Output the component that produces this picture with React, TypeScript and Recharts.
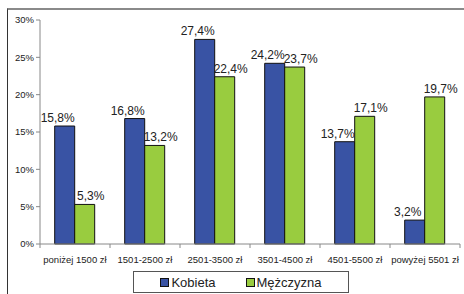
import { BarChart, Bar, XAxis, YAxis, LabelList } from "recharts";

const categories = [
  "poniżej 1500 zł",
  "1501-2500 zł",
  "2501-3500 zł",
  "3501-4500 zł",
  "4501-5500 zł",
  "powyżej 5501 zł",
];
const kobieta = [15.8, 16.8, 27.4, 24.2, 13.7, 3.2];
const mezczyzna = [5.3, 13.2, 22.4, 23.7, 17.1, 19.7];
const yTicks = [0, 5, 10, 15, 20, 25, 30];

const SERIES = [
  { key: "kobieta", name: "Kobieta", color: "#3953a4", dx: -7 },
  { key: "mezczyzna", name: "Mężczyzna", color: "#99cc3f", dx: 6 },
];

const data = categories.map((name, i) => ({
  name,
  kobieta: kobieta[i],
  mezczyzna: mezczyzna[i],
}));

const W = 464;
const H = 294;
const PLOT_LEFT = 40;
const PLOT_RIGHT = 460;
const BAND = (PLOT_RIGHT - PLOT_LEFT) / categories.length;

const fmt = (v: any) => `${String(v).replace(".", ",")}%`;

// category label plus a tick mark on the band boundary (Excel style)
const XTick = ({ x, y, payload, index }: any) => (
  <g>
    {index === 0 && (
      <line x1={x - BAND / 2} y1={y - 8} x2={x - BAND / 2} y2={y - 4} stroke="#888" />
    )}
    <line x1={x + BAND / 2} y1={y - 8} x2={x + BAND / 2} y2={y - 4} stroke="#888" />
    <text x={x} y={y + 11} textAnchor="middle" fontSize={9.5} fill="#222">
      {payload.value}
    </text>
  </g>
);

export default function App() {
  return (
    <div style={{ position: "absolute", left: 0, top: 0, width: W, height: H, background: "#fff", overflow: "hidden", fontFamily: "Arial, 'Liberation Sans', sans-serif" }}>
      <div style={{ position: "absolute", left: 7, top: 8, width: W, height: H, borderTop: "2px solid #8a8a8a", borderLeft: "1px solid #333" }} />
      <div style={{ position: "absolute", left: 0, top: 0 }}>
        <BarChart
          width={W}
          height={H}
          data={data}
          margin={{ top: 20, right: 4, left: 10, bottom: 30 }}
          barCategoryGap="21%"
          barGap={0}
        >
          <XAxis
            dataKey="name"
            axisLine={{ stroke: "#888" }}
            tickLine={false}
            tick={<XTick />}
            interval={0}
            height={20}
          />
          <YAxis
            width={30}
            domain={[0, 30]}
            ticks={yTicks}
            tickFormatter={(v) => `${v}%`}
            axisLine={{ stroke: "#888" }}
            tickLine={{ stroke: "#888" }}
            tickSize={4}
            tick={{ fontSize: 9.5, fill: "#222" }}
          />
          {SERIES.map((s) => (
            <Bar key={s.key} dataKey={s.key} name={s.name} fill={s.color} stroke="#111" strokeWidth={1} isAnimationActive={false}>
              <LabelList dataKey={s.key} position="top" offset={4} dx={s.dx} formatter={fmt} style={{ fontSize: 12, fill: "#222" }} />
            </Bar>
          ))}
        </BarChart>
      </div>
      <div style={{ position: "absolute", left: 133, top: 271, width: 216, height: 22, border: "1px solid #555", boxSizing: "border-box", display: "flex", alignItems: "center", justifyContent: "center", gap: 30, fontSize: 13, color: "#222" }}>
        {SERIES.map((s) => (
          <div key={s.key} style={{ display: "flex", alignItems: "center" }}>
            <span style={{ display: "inline-block", width: 7, height: 7, background: s.color, border: "1px solid #111", marginRight: 2 }} />
            {s.name}
          </div>
        ))}
      </div>
    </div>
  );
}
